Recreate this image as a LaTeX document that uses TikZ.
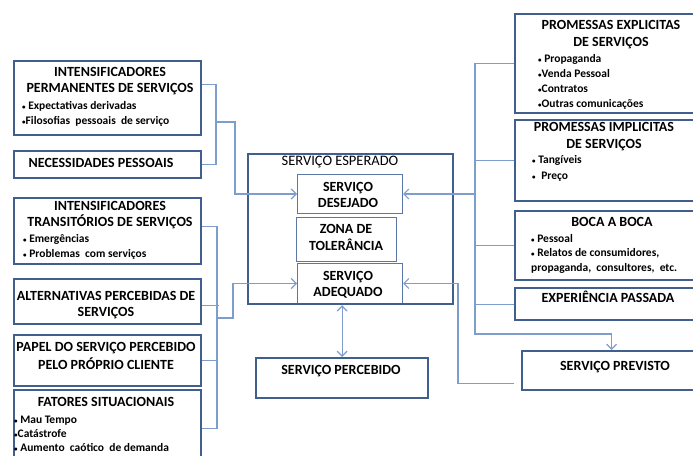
\documentclass[tikz,border=0pt]{standalone}
\usepackage{fontspec}
\setmainfont{Carlito}
\usetikzlibrary{arrows.meta,positioning}
\definecolor{boxblue}{RGB}{65,95,140}
\definecolor{innerblue}{RGB}{90,120,165}
\definecolor{linkblue}{RGB}{125,158,205}
\newcommand{\itemdot}{{\fontsize{7}{7}\selectfont\textbullet}\ }
\newcommand{\itemdott}{{\fontsize{7}{7}\selectfont\textbullet}}

\begin{document}
\begin{tikzpicture}[x=1pt,y=-1pt,
  box/.style={rectangle,draw=boxblue,line width=2.2pt,inner sep=0pt,anchor=north west},
  ibox/.style={rectangle,draw=innerblue,line width=1pt,inner sep=0pt,anchor=north west},
  head/.style={font=\bfseries\fontsize{14}{16}\selectfont,align=center,inner sep=0pt},
  lst/.style={font=\bfseries\fontsize{11.5}{15}\selectfont,align=left,inner sep=0pt,anchor=west},
  link/.style={draw=linkblue,line width=1.2pt},
  arr/.style={link,-{Straight Barb[length=5pt,width=10pt]}},
  darr/.style={link,{Straight Barb[length=5pt,width=10pt]}-{Straight Barb[length=5pt,width=10pt]}},
]
\useasboundingbox (0,0) rectangle (693,455);

% left column
\node[box,minimum width=187pt,minimum height=74pt] (perm) at (13,60) {};
\node[box,minimum width=187pt,minimum height=27pt] (nec) at (13,150) {};
\node[box,minimum width=187pt,minimum height=66pt] (trans) at (13,197) {};
\node[box,minimum width=187pt,minimum height=45pt] (alt) at (13,278) {};
\node[box,minimum width=187pt,minimum height=51pt] (papel) at (13,334) {};
\node[box,minimum width=187pt,minimum height=77pt] (fat) at (13,389) {};

\node[head] (permH) at (110,81) {INTENSIFICADORES\\PERMANENTES DE SERVIÇOS};
\node[lst] (permL) at (22,114) {\itemdot Expectativas derivadas\\\itemdott Filosofias\ \ pessoais\ \ de serviço};
\node[head] (necH) at (101,163) {NECESSIDADES PESSOAIS};
\node[head] (transH) at (110,215) {INTENSIFICADORES\\TRANSITÓRIOS DE SERVIÇOS};
\node[lst] (transL) at (23,247) {\itemdot Emergências\\\itemdot Problemas\ \ com serviços};
\node[head] (altH) at (106,305) {ALTERNATIVAS PERCEBIDAS DE\\SERVIÇOS};
\node[head,font=\bfseries\fontsize{14}{18}\selectfont] (papelH) at (106,356) {PAPEL DO SERVIÇO PERCEBIDO\\PELO PRÓPRIO CLIENTE};
\node[head] (fatH) at (106,402) {FATORES SITUACIONAIS};
\node[lst,font=\bfseries\fontsize{11.5}{14}\selectfont] (fatL) at (14,434) {\itemdot Mau Tempo\\\itemdott Catástrofe\\\itemdot Aumento\ \ caótico\ \ de demanda};

% centre
\node[ibox,minimum width=105pt,minimum height=39pt] (desejado) at (297,174) {};
\node[ibox,minimum width=100pt,minimum height=44pt] (zona) at (296,217) {};
\node[ibox,minimum width=105pt,minimum height=40pt] (adequado) at (297,263) {};
\node[box,minimum width=205pt,minimum height=150pt] (esperado) at (247,153) {};
\node[box,minimum width=172pt,minimum height=40pt] (percebido) at (255,357) {};

\node[head,font=\fontsize{14.5}{16}\selectfont] (esperadoH) at (340,162) {SERVIÇO ESPERADO};
\node[head] (desejadoH) at (348,195) {SERVIÇO\\DESEJADO};
\node[head,font=\bfseries\fontsize{14}{17}\selectfont] (zonaH) at (346,237.5) {ZONA DE\\TOLERÂNCIA};
\node[head] (adequadoH) at (348,285) {SERVIÇO\\ADEQUADO};
\node[head] (percebidoH) at (341,371) {SERVIÇO PERCEBIDO};

% right column
\node[box,minimum width=186pt,minimum height=99pt] (expl) at (514,13) {};
\node[box,minimum width=186pt,minimum height=81pt] (impl) at (514,119) {};
\node[box,minimum width=186pt,minimum height=69pt] (boca) at (514,210) {};
\node[box,minimum width=186pt,minimum height=32pt] (exper) at (514,287) {};
\node[box,minimum width=179pt,minimum height=39pt] (previsto) at (521,350) {};

\node[head,font=\bfseries\fontsize{14}{17}\selectfont] (explH) at (611,34.5) {PROMESSAS EXPLICITAS\\DE SERVIÇOS};
\node[lst] (explL) at (538,82) {\itemdot Propaganda\\\itemdott Venda Pessoal\\\itemdott Contratos\\\itemdott Outras comunicações};
\node[head,font=\bfseries\fontsize{14}{17}\selectfont] (implH) at (604,136.5) {PROMESSAS IMPLICITAS\\DE SERVIÇOS};
\node[lst,font=\bfseries\fontsize{11.5}{16}\selectfont] (implL) at (532,168) {\itemdot Tangíveis\\\itemdot\hspace{3pt}Preço};
\node[head] (bocaH) at (612,222) {BOCA A BOCA};
\node[lst,font=\bfseries\fontsize{11.5}{14.5}\selectfont] (bocaL) at (531,253.5) {\itemdot Pessoal\\\itemdot Relatos de consumidores,\\propaganda,\ \ consultores,\ \ etc.};
\node[head] (experH) at (608,297) {EXPERIÊNCIA PASSADA};
\node[head] (previstoH) at (615,367) {SERVIÇO PREVISTO};

% connectors
\coordinate (busL1) at (216,122);
\coordinate (busL2) at (217,318);
\coordinate (busR) at (475,334);
\coordinate (turnR) at (458,0);

\draw[link] ([yshift=14pt]perm.east) -| (busL1 |- nec.east) -- (nec.east);
\draw[arr] (busL1) -- ++(19,0) |- (desejado.west);

\draw[link] ([yshift=5pt]trans.east) -| (busL2 |- fat.east) -- (fat.east);
\draw[link] ([yshift=-4pt]alt.east) -- ++(17,0);
\draw[link] (papel.east) -- (papel.east -| busL2);
\draw[arr] (busL2) -- ++(16,0) |- (adequado.west);

\draw[arr] (expl.west) -| (busR) -| (previsto.north);
\draw[link] (impl.west) -- (impl.west -| busR);
\draw[link] (boca.west) -- (boca.west -| busR);
\draw[link] (exper.west) -- (exper.west -| busR);
\draw[arr] (busR |- desejado.east) -- (desejado.east);
\draw[arr,shorten <=7pt] ([yshift=-12.5pt]previsto.west) -| (turnR |- adequado.east) -- (adequado.east);

\draw[darr] (percebido.north |- esperado.south) -- (percebido.north);
\end{tikzpicture}
\end{document}
